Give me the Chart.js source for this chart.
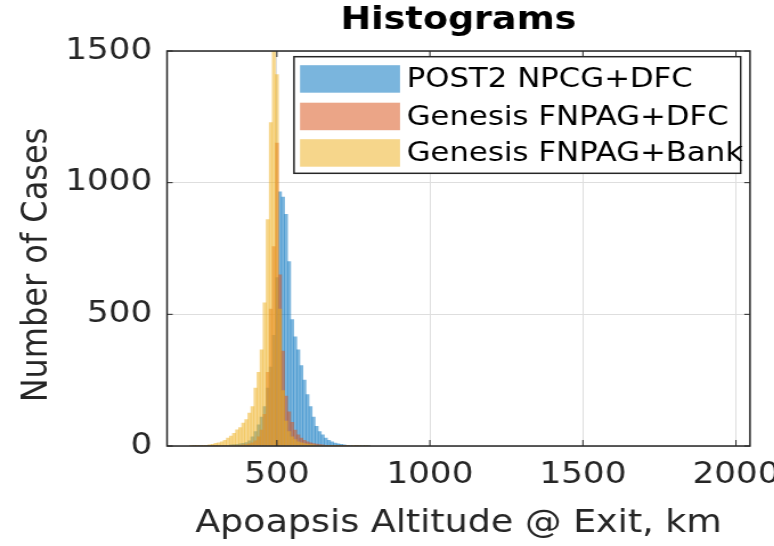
<!DOCTYPE html>
<html>
<head>
<meta charset="utf-8">
<script src="https://cdn.jsdelivr.net/npm/chart.js@4.4.1/dist/chart.umd.min.js"></script>
<style>
  html, body { margin: 0; padding: 0; background: #fff; overflow: hidden; }
  /* the reference figure is stretched sideways, so the canvas is too */
  #histChart { transform: scaleX(1.14); transform-origin: 0 0; }
</style>
</head>
<body>
<canvas id="histChart" width="679" height="546"></canvas>
<script>
// Bin centres (km) and counts
const binCenters = [220, 230, 240, 250, 260, 270, 280, 290, 300, 310,
                    320, 330, 340, 350, 360, 370, 380, 390, 400, 410,
                    420, 430, 440, 450, 460, 470, 480, 490, 500, 510,
                    520, 530, 540, 550, 560, 570, 580, 590, 600, 610,
                    620, 630, 640, 650, 660, 670, 680, 690, 700, 710,
                    720, 730, 740, 750, 760, 770, 780, 790, 800];

const post2Counts = [0, 1, 0, 1, 0, 1, 1, 1, 1, 2,
                     2, 3, 3, 4, 5, 6, 8, 10, 13, 20,
                     35, 55, 80, 110, 150, 220, 300, 420, 640, 965,
                     945, 880, 700, 480, 415, 365, 305, 250, 195, 150,
                     110, 75, 55, 42, 30, 22, 16, 11, 8, 6,
                     4, 3, 3, 2, 2, 1, 1, 1, 1];

const fnpagDfcCounts = [0, 0, 1, 0, 1, 0, 1, 1, 1, 1,
                        1, 1, 2, 2, 2, 3, 3, 4, 5, 8,
                        12, 20, 35, 60, 120, 280, 520, 757, 1150, 650,
                        360, 190, 130, 90, 60, 42, 30, 22, 16, 12,
                        9, 7, 5, 4, 3, 3, 2, 2, 1, 1,
                        1, 1, 0, 0, 1, 0, 0, 0, 0];

const fnpagBankCounts = [1, 1, 1, 2, 2, 3, 4, 6, 10, 12,
                         16, 22, 30, 38, 48, 61, 70, 87, 100, 125,
                         150, 220, 280, 365, 544, 860, 1228, 1600, 1410, 520,
                         210, 95, 55, 35, 24, 16, 12, 9, 7, 5,
                         4, 3, 3, 2, 2, 1, 1, 1, 1, 1,
                         0, 1, 0, 1, 0, 1, 0, 1, 0];

const seriesNames = ['POST2 NPCG+DFC', 'Genesis FNPAG+DFC', 'Genesis FNPAG+Bank'];
const seriesColors = ['rgba(0,114,189,0.52)', 'rgba(217,83,25,0.52)', 'rgba(237,177,32,0.52)'];

const xTicks = [500, 1000, 1500, 2000];
const yTicks = [0, 500, 1000, 1500];

const textColor = '#262626';
const fontFamily = '"DejaVu Sans", sans-serif';

function toPoints(counts) {
    return binCenters.map((c, i) => ({ x: c, y: counts[i] }));
}

// Box, inward tick marks, legend and axis labels (MATLAB look)
const matlabFrame = {
    id: 'matlabFrame',
    afterDatasetsDraw(chart) {
        const { ctx, chartArea: a, scales } = chart;
        ctx.save();
        ctx.strokeStyle = textColor;
        ctx.lineWidth = 1;
        ctx.beginPath();
        xTicks.forEach(v => {
            const px = scales.x.getPixelForValue(v);
            ctx.moveTo(px, a.bottom); ctx.lineTo(px, a.bottom - 6);
            ctx.moveTo(px, a.top); ctx.lineTo(px, a.top + 6);
        });
        yTicks.forEach(v => {
            const py = scales.y.getPixelForValue(v);
            ctx.moveTo(a.left, py); ctx.lineTo(a.left + 5, py);
            ctx.moveTo(a.right, py); ctx.lineTo(a.right - 5, py);
        });
        ctx.stroke();
        ctx.lineWidth = 1.5;
        ctx.strokeRect(a.left, a.top, a.right - a.left, a.bottom - a.top);

        // legend
        const lx = a.right - 8.2, ly = a.top + 5.7;
        const boxL = 257.9, boxH = 116.6;
        ctx.fillStyle = '#fff';
        ctx.fillRect(boxL, ly, lx - boxL, boxH);
        ctx.lineWidth = 1.5;
        ctx.strokeRect(boxL, ly, lx - boxL, boxH);
        ctx.font = '27px ' + fontFamily;
        ctx.textBaseline = 'middle';
        ctx.textAlign = 'left';
        const rowY = [79, 116.5, 153];
        chart.data.datasets.forEach((ds, i) => {
            ctx.fillStyle = ds.backgroundColor;
            ctx.fillRect(263.2, rowY[i] - 13.8, 87.7, 27.5);
            ctx.fillStyle = '#000';
            ctx.fillText(ds.label, 356.7, rowY[i] + 1);
        });

        // axis titles
        ctx.fillStyle = textColor;
        ctx.font = '32px ' + fontFamily;
        ctx.textAlign = 'center';
        ctx.textBaseline = 'alphabetic';
        ctx.fillText('Apoapsis Altitude @ Exit, km', (a.left + a.right) / 2, 532);
        ctx.translate(41.2, 265);
        ctx.rotate(-Math.PI / 2);
        ctx.fillText('Number of Cases', 0, 0);
        ctx.restore();
    }
};

const ctx = document.getElementById('histChart').getContext('2d');
const chart = new Chart(ctx, {
    type: 'bar',
    data: {
        datasets: [
            { label: seriesNames[0], data: toPoints(post2Counts), backgroundColor: seriesColors[0], order: 3 },
            { label: seriesNames[1], data: toPoints(fnpagDfcCounts), backgroundColor: seriesColors[1], order: 2 },
            { label: seriesNames[2], data: toPoints(fnpagBankCounts), backgroundColor: seriesColors[2], order: 1 }
        ]
    },
    options: {
        responsive: false,
        animation: false,
        layout: { padding: { left: 0, right: 21.1, top: 0, bottom: 0 } },
        datasets: {
            bar: { barPercentage: 1, categoryPercentage: 1, grouped: false, borderWidth: 0 }
        },
        plugins: {
            legend: { display: false },
            tooltip: { enabled: false },
            title: {
                display: true,
                text: 'Histograms',
                fullSize: false,
                color: '#000',
                font: { family: fontFamily, size: 32, weight: 'bold', lineHeight: 1.2 },
                padding: { top: 1, bottom: 11.6 }
            }
        },
        scales: {
            x: {
                type: 'linear',
                min: 141,
                max: 2046,
                offset: false,
                afterBuildTicks: s => { s.ticks = xTicks.map(v => ({ value: v })); },
                afterFit: s => { s.height = 100; s.paddingLeft = 0; s.paddingRight = 0; },
                grid: { color: '#dedede', drawTicks: false, lineWidth: 1, offset: false },
                border: { display: false },
                ticks: { color: textColor, font: { family: fontFamily, size: 30 }, padding: 11, maxRotation: 0,
                         callback: v => String(v) }
            },
            y: {
                min: 0,
                max: 1500,
                afterBuildTicks: s => { s.ticks = yTicks.map(v => ({ value: v })); },
                afterFit: s => { s.width = 146.5; s.paddingTop = 0; s.paddingBottom = 0; },
                grid: { color: '#dedede', drawTicks: false, lineWidth: 1 },
                border: { display: false },
                ticks: { color: textColor, font: { family: fontFamily, size: 30 }, padding: 13,
                         callback: v => String(v) }
            }
        }
    },
    plugins: [matlabFrame]
});
</script>
</body>
</html>
